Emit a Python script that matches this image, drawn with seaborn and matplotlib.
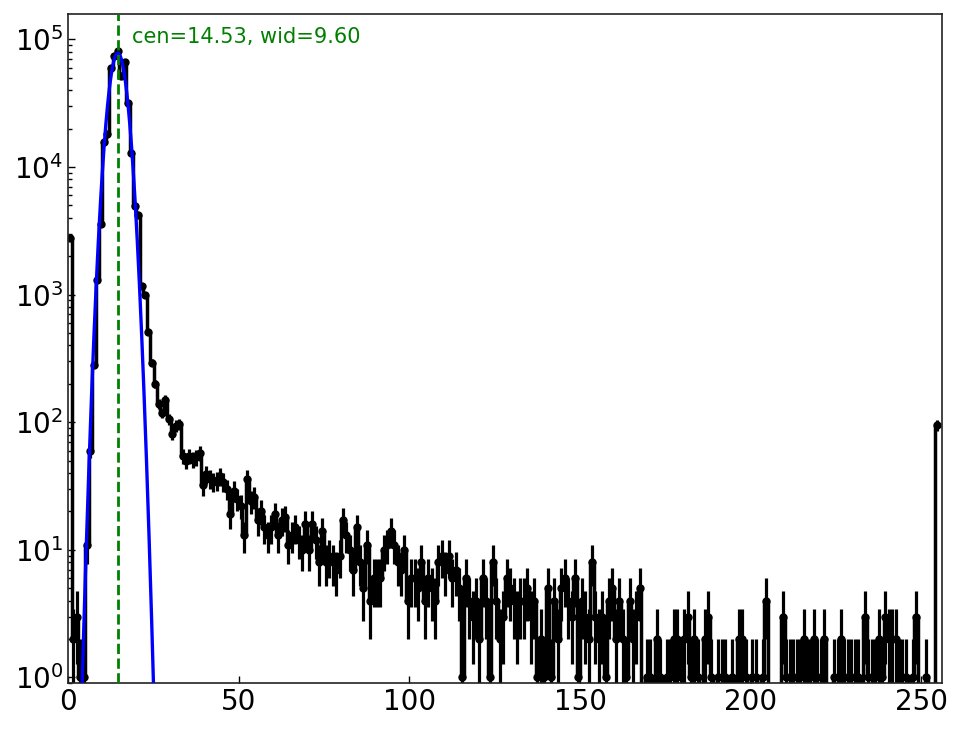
import numpy as np
import pandas as pd
import matplotlib
matplotlib.use('Agg')
import matplotlib.pyplot as plt
import seaborn as sns

# histogram counts, one per bin (bins 0..254)
counts = [
    2800, 2, 3, 1, 1, 11, 60, 281, 1300, 3600,
    15600, 18000, 60000, 74000, 81000, 52000, 66000, 32000, 12800, 4970,
    4200, 1170, 1000, 505, 293, 200, 139, 119, 150, 106,
    81, 94, 97, 54, 50, 54, 51, 53, 57, 32,
    39, 36, 34, 35, 38, 34, 30, 19, 29, 25,
    22, 13, 36, 24, 26, 17, 20, 15, 13, 15,
    19, 13, 17, 18, 11, 13, 15, 12, 10, 16,
    10, 16, 12, 8, 14, 8, 9, 8, 7, 9,
    17, 13, 10, 7, 15, 8, 5, 11, 4, 6,
    6, 6, 10, 11, 14, 11, 8, 7, 10, 4,
    6, 6, 5, 8, 4, 6, 5, 4, 8, 9,
    7, 9, 6, 7, 5, 1, 6, 4, 3, 4,
    2, 6, 4, 1, 8, 4, 2, 3, 6, 5,
    4, 3, 4, 4, 5, 3, 4, 1, 2, 1,
    5, 1, 4, 2, 5, 6, 4, 3, 6, 1,
    4, 3, 2, 8, 3, 2, 3, 1, 4, 5,
    2, 4, 2, 1, 4, 2, 3, 5, 0, 1,
    1, 0, 2, 1, 0, 1, 1, 2, 2, 1,
    2, 3, 1, 2, 1, 0, 2, 3, 1, 0,
    1, 1, 1, 0, 1, 0, 2, 2, 1, 0,
    1, 1, 0, 1, 4, 0, 0, 0, 0, 3,
    1, 1, 1, 1, 1, 2, 1, 1, 2, 1,
    1, 2, 0, 0, 1, 1, 2, 1, 1, 1,
    1, 1, 0, 3, 1, 1, 1, 2, 1, 3,
    2, 2, 2, 1, 1, 1, 0, 1, 3, 0,
    0, 1, 0, 0, 95,
]

# gaussian fit parameters
cen = 14.53
wid = 9.60
amp = 7.8e4

x_ticks = [0, 50, 100, 150, 200, 250]

counts = np.array(counts, dtype=float)
bins = np.arange(len(counts)) + 0.5
errs = np.sqrt(counts)

xfit = np.linspace(0, 256, 2000)
fit = pd.DataFrame({'x': xfit, 'y': amp * np.exp(-(xfit - cen) ** 2 / wid)})

sns.set_style('ticks')
plt.rcParams['font.family'] = ['DejaVu Sans']
plt.rcParams['xtick.direction'] = 'in'
plt.rcParams['ytick.direction'] = 'in'

fig = plt.figure(figsize=(9.64, 7.29), dpi=100)
ax = fig.add_axes([0.0708, 0.0627, 0.9061, 0.9181])

ax.errorbar(bins, counts, yerr=errs, fmt='o-', color='k', lw=2.5,
            elinewidth=2.3, ms=5, drawstyle='steps-mid', zorder=2)
sns.lineplot(data=fit, x='x', y='y', ax=ax, color='b', lw=2.4, zorder=3)
ax.axvline(cen, color='g', ls='--', lw=2, zorder=4)
ax.text(18.6, 9.3e4, 'cen=%.2f, wid=%.2f' % (cen, wid), color='g',
        fontsize=15, va='baseline')

ax.set_yscale('log')
ax.set_xlim(0, 256)
ax.set_ylim(0.9, 1.58e5)
ax.set_xticks(x_ticks)
ax.set_xlabel('')
ax.set_ylabel('')
ax.tick_params(axis='both', which='major', labelsize=20, length=5, width=1,
               colors='k', top=False, right=False)
ax.tick_params(axis='y', which='minor', length=3, width=1, colors='k')
for s in ax.spines.values():
    s.set_visible(True)
    s.set_color('#222222')
    s.set_linewidth(1.2)

fig.savefig('out.png', dpi=100)
